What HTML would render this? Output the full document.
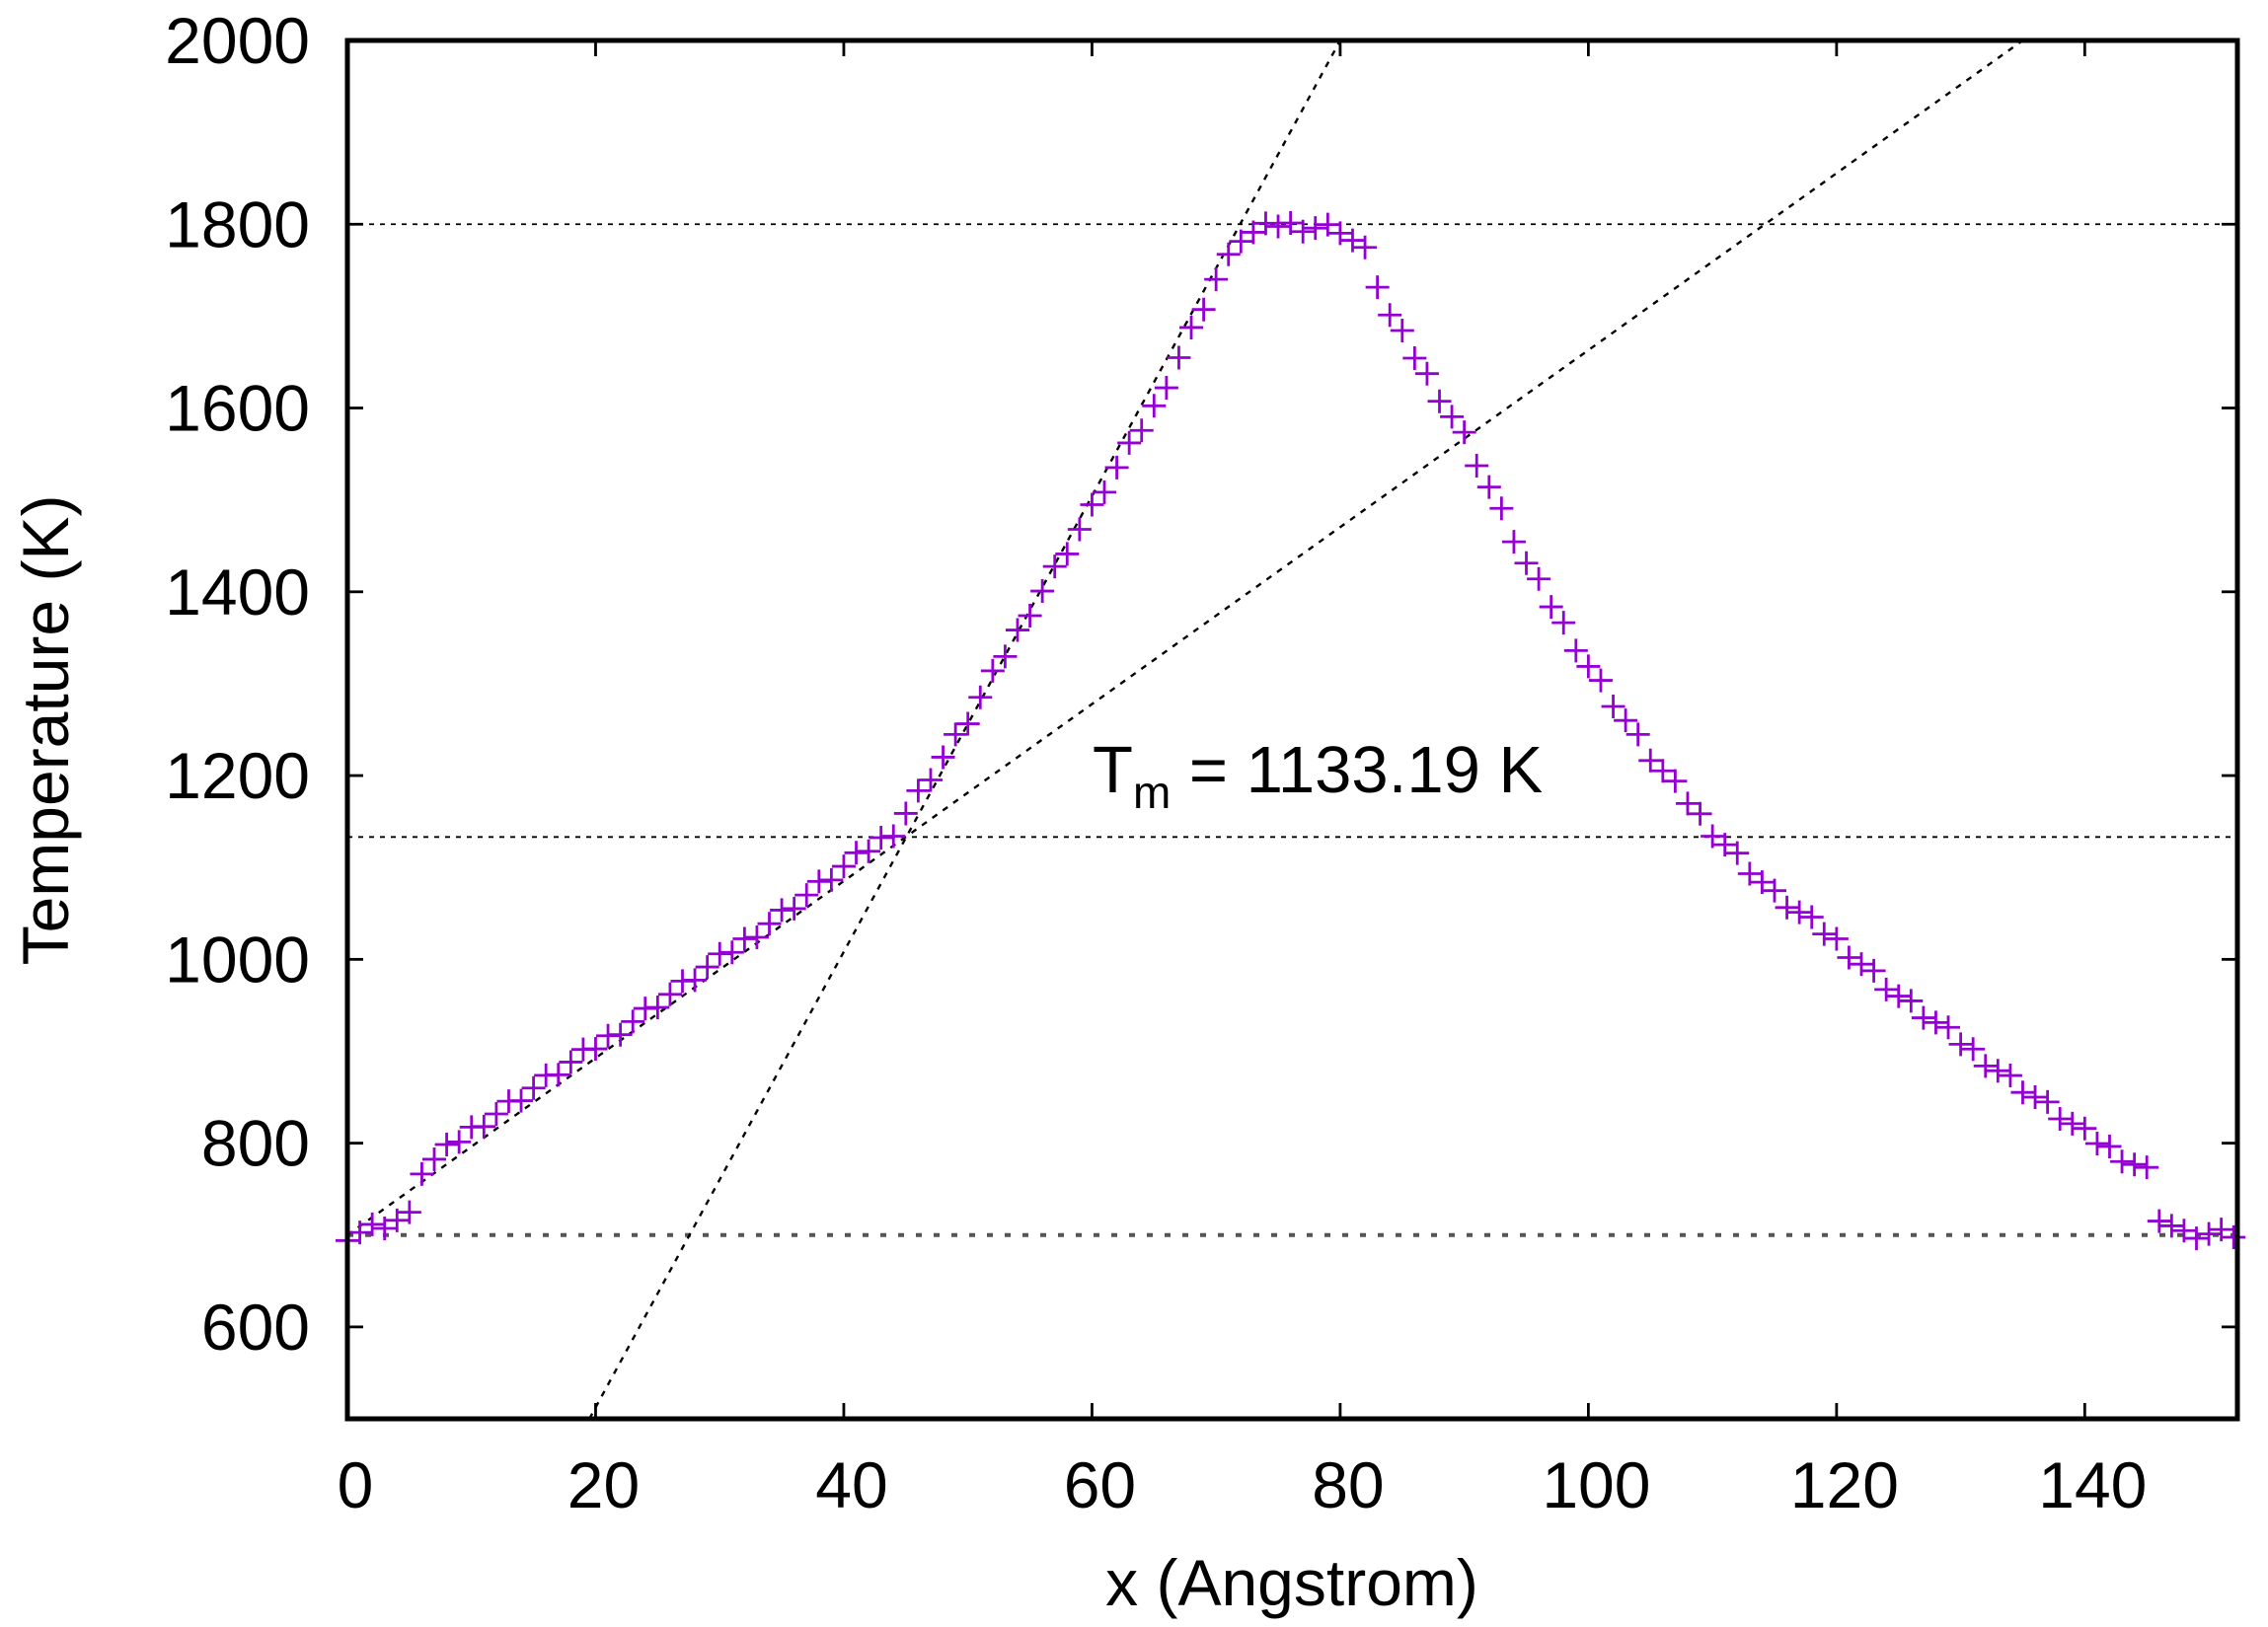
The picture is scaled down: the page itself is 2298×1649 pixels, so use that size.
<!DOCTYPE html>
<html><head><meta charset="utf-8"><style>
html,body{margin:0;padding:0;background:#fff;}
svg{display:block;font-family:"Liberation Sans",sans-serif;}
</style></head><body>
<svg id="s" width="2298" height="1649" viewBox="0 0 2298 1649" xmlns="http://www.w3.org/2000/svg">
<defs><clipPath id="c"><rect x="352" y="41" width="1915" height="1397"/></clipPath></defs>
<g id="grid"></g>
<g id="pts" stroke="#9400d3" stroke-width="2.8" fill="none"></g>
<rect x="352" y="41" width="1915" height="1397" fill="none" stroke="#000" stroke-width="5"/>
<g id="ticks" stroke="#000" stroke-width="2.8"></g>
<g id="lbl" font-size="66" fill="#000"></g>
<text x="1107" y="803" font-size="67">T<tspan font-size="46" dy="16">m</tspan><tspan dy="-16"> = 1133.19 K</tspan></text>
<text transform="translate(69,740) rotate(-90)" text-anchor="middle" font-size="66">Temperature (K)</text>
<text x="1309" y="1627" text-anchor="middle" font-size="66">x (Angstrom)</text>
</svg>
<script>
var NS="http://www.w3.org/2000/svg";
function X(x){return 352+x*(1915/152.3);}
function Y(t){return 41+(2000-t)*(1397/1500);}
function el(p,tag,a){var e=document.createElementNS(NS,tag);for(var k in a)e.setAttribute(k,a[k]);p.appendChild(e);return e;}
var g=document.getElementById('grid');
var gc=el(g,'g',{'clip-path':'url(#c)'});
el(gc,'line',{x1:352,x2:2267,y1:Y(1800),y2:Y(1800),stroke:'#000','stroke-width':1.8,'stroke-dasharray':'5 6'});
el(gc,'line',{x1:352,x2:2267,y1:Y(1133.19),y2:Y(1133.19),stroke:'#000','stroke-width':1.8,'stroke-dasharray':'5 6'});
el(gc,'line',{x1:352,x2:2267,y1:Y(700),y2:Y(700),stroke:'#555','stroke-width':4,'stroke-dasharray':'6 12'});
el(gc,'line',{x1:X(19.5),y1:Y(500),x2:X(80),y2:Y(2000),stroke:'#000','stroke-width':2.4,'stroke-dasharray':'6 7'});
el(gc,'line',{x1:X(0),y1:Y(700),x2:X(135),y2:Y(2000),stroke:'#000','stroke-width':2.4,'stroke-dasharray':'6 7'});
var kp=[[0,700],[5,720],[6,770],[10,815],[20,905],[30,1000],[40,1100],[44,1140],[50,1260],[55,1380],[60,1490],[65,1600],[70,1740],[72,1785],[75,1800],[80,1795],[82,1770],[84,1700],[90,1570],[95,1430],[100,1320],[105,1220],[110,1140],[115,1070],[120,1020],[125,960],[130,910],[135,860],[140,810],[145,770],[146,720],[148,700],[152,700]];
function f(x){for(var i=0;i<kp.length-1;i++){if(x<=kp[i+1][0]){var a=kp[i],b=kp[i+1];return a[1]+(b[1]-a[1])*(x-a[0])/(b[0]-a[0]);}}return 700;}
var P=document.getElementById('pts');var d='';
for(var x=0;x<=152.01;x+=1){var t=f(x)+((x*37)%11-5)*1.2;var px=X(x),py=Y(t);d+='M'+(px-12)+' '+py+'h24M'+px+' '+(py-12)+'v24';}
el(P,'path',{d:d});
var T=document.getElementById('ticks'),L=document.getElementById('lbl');
for(var v=600;v<=2000;v+=200){var y=Y(v);el(T,'line',{x1:352,x2:368,y1:y,y2:y});el(T,'line',{x1:2251,x2:2267,y1:y,y2:y});var t=el(L,'text',{x:314,y:y+23,'text-anchor':'end'});t.textContent=v;}
for(var v=0;v<=140;v+=20){var x=X(v);el(T,'line',{x1:x,x2:x,y1:1422,y2:1438});el(T,'line',{x1:x,x2:x,y1:41,y2:57});var t=el(L,'text',{x:x+8,y:1528,'text-anchor':'middle'});t.textContent=v;}
</script>
</body></html>
